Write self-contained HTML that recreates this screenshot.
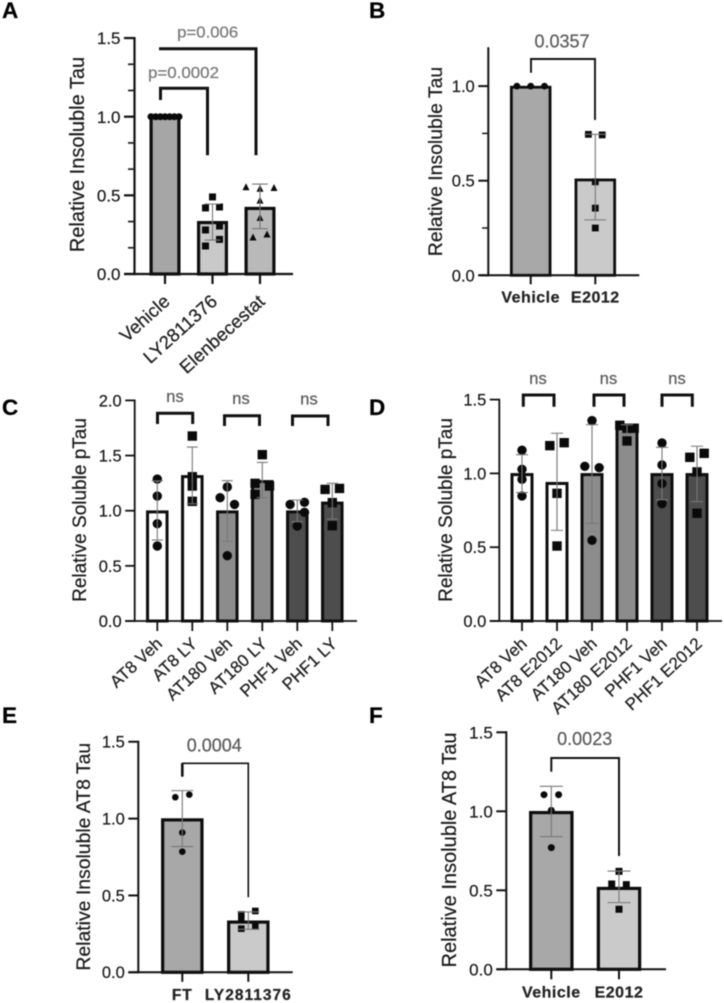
<!DOCTYPE html>
<html lang="en">
<head>
<meta charset="utf-8">
<title>Relative tau panels</title>
<style>
html,body{margin:0;padding:0;background:#fff;width:724px;height:1003px;overflow:hidden}
svg{display:block;filter:blur(0.4px)}
text{font-family:"Liberation Sans",sans-serif;stroke:#222;stroke-width:0.22px}
.letter{font-size:22.5px;font-weight:bold;fill:#000;stroke:#000}
.ytitle{fill:#1a1a1a;text-anchor:middle}
.pval{fill:#5a5a5a;stroke:#5a5a5a;text-anchor:middle}
.br{fill:none;stroke:#111;stroke-linejoin:miter}
</style>
</head>
<body>
<svg id="figure" width="724" height="1003" viewBox="0 0 724 1003" xmlns="http://www.w3.org/2000/svg">
  <rect width="724" height="1003" fill="#fff"/>

  <g id="panel-a">
    <text class="letter" x="2" y="18">A</text>
    <text class="ytitle" font-size="20" transform="translate(84,154.5) rotate(-90)">Relative Insoluble Tau</text>
  </g>
  <g id="panel-b">
    <text class="letter" x="369" y="18">B</text>
    <text class="ytitle" font-size="19.4" transform="translate(442,161.5) rotate(-90)">Relative Insoluble Tau</text>
  </g>
  <g id="panel-c">
    <text class="letter" x="2" y="415">C</text>
    <text class="ytitle" font-size="19" transform="translate(86,510) rotate(-90)">Relative Soluble pTau</text>
  </g>
  <g id="panel-d">
    <text class="letter" x="369" y="415">D</text>
    <text class="ytitle" font-size="19" transform="translate(452,510) rotate(-90)">Relative Soluble pTau</text>
  </g>
  <g id="panel-e">
    <text class="letter" x="2" y="723">E</text>
    <text class="ytitle" font-size="19.4" transform="translate(90,856.7) rotate(-90)">Relative Insoluble AT8 Tau</text>
  </g>
  <g id="panel-f">
    <text class="letter" x="369" y="723">F</text>
    <text class="ytitle" font-size="20" transform="translate(456,850) rotate(-90)">Relative Insoluble AT8 Tau</text>
  </g>

  <g id="annotations">
    <path class="br" stroke-width="3" d="M160.5 100V88.3H207.5V155.3"/>
    <path class="br" stroke-width="3" d="M159 48.7H256V155.3"/>
    <text class="pval" font-size="15.5" x="183.5" y="78" textLength="71" lengthAdjust="spacingAndGlyphs" style="fill:#777;stroke:#777">p=0.0002</text>
    <text class="pval" font-size="15.5" x="207.7" y="37.7" textLength="61" lengthAdjust="spacingAndGlyphs" style="fill:#777;stroke:#777">p=0.006</text>

    <path class="br" stroke-width="1.9" d="M531 72.7V59H595V120"/>
    <text class="pval" font-size="18" x="562" y="47.7">0.0357</text>

    <path class="br" stroke-width="3" d="M157.5 424V413.3H192.7V424"/>
    <path class="br" stroke-width="3" d="M224.5 426V415.7H259.5V426"/>
    <path class="br" stroke-width="3" d="M292.5 426V416H328V426"/>
    <text class="pval" font-size="16.5" x="175" y="402">ns</text>
    <text class="pval" font-size="16.5" x="241" y="404">ns</text>
    <text class="pval" font-size="16.5" x="309" y="404.7">ns</text>

    <path class="br" stroke-width="3" d="M523.3 406.7V395H554V406.7"/>
    <path class="br" stroke-width="3" d="M594 406.7V395H624V406.7"/>
    <path class="br" stroke-width="3" d="M662 406.7V395H692.3V406.7"/>
    <text class="pval" font-size="16.5" x="538" y="384">ns</text>
    <text class="pval" font-size="16.5" x="608.5" y="384">ns</text>
    <text class="pval" font-size="16.5" x="677" y="384">ns</text>

    <path class="br" stroke-width="1.6" d="M182.3 763.3H248.3V897.3"/>
    <path class="br" stroke-width="2.6" d="M182.3 776.7V763"/>
    <text class="pval" font-size="18" x="214.3" y="751.7">0.0004</text>

    <path class="br" stroke-width="2" d="M551.3 771.7V758H619V856"/>
    <text class="pval" font-size="18" x="584.7" y="745">0.0023</text>
  </g>
</svg>

<script>
// ---------- Panel A ----------
const panelACategories = ['Vehicle', 'LY2811376', 'Elenbecestat'];
const panelAMeans = [1.0, 0.335, 0.425];
const panelAErrHigh = [1.0, 0.445, 0.572];
const panelAErrLow = [1.0, 0.216, 0.288];
const panelAPoints = [
  [1, 1, 1, 1, 1, 1, 1],
  [0.49, 0.42, 0.426, 0.28, 0.305, 0.22, 0.178],
  [0.555, 0.545, 0.55, 0.47, 0.36, 0.235, 0.254]
];
const panelASlots = [
  [-2, -1.33, -0.67, 0, 0.67, 1.33, 2],
  [0, -1, 1, -1, 1, 1, -1],
  [-2, 0, 2, 0, 0, -1, 1]
];
const panelAMarkers = ['circle', 'square', 'triangle'];
const panelAFills = ['#a6a6a6', '#c9c9c9', '#b9b9b9'];
const panelATicks = [0, 0.5, 1, 1.5];
const panelATickLabels = ['0.0', '0.5', '1.0', '1.5'];
const panelAMinorTicks = [0.1667, 0.3333, 0.6667, 0.8333, 1.1667, 1.3333];

// ---------- Panel B ----------
const panelBCategories = ['Vehicle', 'E2012'];
const panelBMeans = [1.0, 0.51];
const panelBErrHigh = [1.0, 0.745];
const panelBErrLow = [1.0, 0.293];
const panelBPoints = [
  [1, 1, 1],
  [0.745, 0.742, 0.494, 0.355, 0.25]
];
const panelBSlots = [
  [-2, 0, 2],
  [-1, 1, 0, 0, 0]
];
const panelBMarkers = ['circle', 'square'];
const panelBFills = ['#a8a8a8', '#cacaca'];
const panelBTicks = [0, 0.5, 1];
const panelBTickLabels = ['0.0', '0.5', '1.0'];
const panelBMinorTicks = [0.25, 0.75];

// ---------- Panel C ----------
const panelCCategories = ['AT8 Veh', 'AT8 LY', 'AT180 Veh', 'AT180 LY', 'PHF1 Veh', 'PHF1 LY'];
const panelCMeans = [1.0, 1.32, 1.0, 1.275, 1.0, 1.08];
const panelCErrHigh = [1.27, 1.577, 1.272, 1.438, 1.097, 1.248];
const panelCErrLow = [0.734, 1.063, 0.722, 1.118, 0.9, 0.924];
const panelCPoints = [
  [1.287, 1.133, 0.882, 0.68],
  [1.677, 1.308, 1.224, 1.085],
  [1.215, 1.118, 1.057, 0.592],
  [1.508, 1.248, 1.224, 1.148],
  [1.057, 1.076, 0.985, 0.861],
  [1.193, 1.202, 1.073, 0.864]
];
const panelCSlots = [
  [0, 0, 0, 0],
  [0, 0, 0, 0],
  [0, -1, 1, 0],
  [0, -1, 1, -1],
  [-1, 1, 1, 0],
  [-1, 1, 0, 0]
];
const panelCMarkers = ['circle', 'square', 'circle', 'square', 'circle', 'square'];
const panelCFills = ['#ffffff', '#ffffff', '#8c8c8c', '#8c8c8c', '#4d4d4d', '#4d4d4d'];
const panelCTicks = [0, 0.5, 1, 1.5, 2];
const panelCTickLabels = ['0.0', '0.5', '1.0', '1.5', '2.0'];

// ---------- Panel D ----------
const panelDCategories = ['AT8 Veh', 'AT8 E2012', 'AT180 Veh', 'AT180 E2012', 'PHF1 Veh', 'PHF1 E2012'];
const panelDMeans = [1.0, 0.94, 1.0, 1.31, 1.0, 1.0];
const panelDErrHigh = [1.127, 1.272, 1.33, 1.33, 1.177, 1.184];
const panelDErrLow = [0.87, 0.614, 0.662, 1.27, 0.822, 0.809];
const panelDPoints = [
  [1.157, 1.028, 0.96, 0.847],
  [1.188, 1.208, 0.865, 0.508],
  [1.358, 1.048, 1.039, 0.547],
  [1.326, 1.306, 1.306, 1.22],
  [1.206, 1.057, 0.931, 0.795],
  [1.109, 1.136, 1.01, 0.73]
];
const panelDSlots = [
  [0, 0, 0, 0],
  [-1, 1, 0, 0],
  [0, -1, 1, 0],
  [-1, 0, 1, 0],
  [0, 0, 0, 0],
  [-1, 1, 0, 0]
];
const panelDMarkers = ['circle', 'square', 'circle', 'square', 'circle', 'square'];
const panelDFills = ['#ffffff', '#ffffff', '#8c8c8c', '#8c8c8c', '#4d4d4d', '#4d4d4d'];
const panelDTicks = [0, 0.5, 1, 1.5];
const panelDTickLabels = ['0.0', '0.5', '1.0', '1.5'];

// ---------- Panel E ----------
const panelECategories = ['FT', 'LY2811376'];
const panelEMeans = [1.0, 0.335];
const panelEErrHigh = [1.182, 0.393];
const panelEErrLow = [0.818, 0.28];
const panelEPoints = [
  [1.139, 1.156, 0.909, 0.785],
  [0.399, 0.377, 0.35, 0.284, 0.299]
];
const panelESlots = [
  [-1, 1, 0, 0],
  [1, -1, -1, -1, 1]
];
const panelEMarkers = ['circle', 'square'];
const panelEFills = ['#a8a8a8', '#cacaca'];
const panelETicks = [0, 0.5, 1, 1.5];
const panelETickLabels = ['0.0', '0.5', '1.0', '1.5'];

// ---------- Panel F ----------
const panelFCategories = ['Vehicle', 'E2012'];
const panelFMeans = [1.0, 0.52];
const panelFErrHigh = [1.158, 0.622];
const panelFErrLow = [0.84, 0.422];
const panelFPoints = [
  [1.105, 1.105, 1.006, 0.77],
  [0.62, 0.54, 0.536, 0.38]
];
const panelFSlots = [
  [-1, 1, 0, 0],
  [0, -1, 1, 0]
];
const panelFMarkers = ['circle', 'square'];
const panelFFills = ['#a8a8a8', '#cacaca'];
const panelFTicks = [0, 0.5, 1, 1.5];
const panelFTickLabels = ['0.0', '0.5', '1.0', '1.5'];

const SVG_NS = 'http://www.w3.org/2000/svg';

function make(tag, attrs, parent) {
  const node = document.createElementNS(SVG_NS, tag);
  Object.keys(attrs).forEach(function (k) { node.setAttribute(k, attrs[k]); });
  parent.appendChild(node);
  return node;
}

function drawMarker(group, kind, cx, cy, size) {
  const h = size / 2;
  let node;
  if (kind === 'circle') {
    node = make('circle', { cx: cx, cy: cy, r: h, fill: '#0a0a0a' }, group);
  } else if (kind === 'square') {
    node = make('rect', { x: cx - h, y: cy - h, width: size, height: size, fill: '#0a0a0a' }, group);
  } else {
    node = make('polygon', { points: (cx - h) + ',' + (cy + h) + ' ' + (cx + h) + ',' + (cy + h) + ' ' + cx + ',' + (cy - h), fill: '#0a0a0a' }, group);
  }
  
  
}

function drawPanel(id, d, g) {
  const root = document.getElementById(id);
  const yScale = function (v) { return g.y0 - v * g.unit; };
  const xScale = function (i) { return g.x0 + i * g.step; };
  const axisStroke = g.axisStroke;
  const tickLen = g.tickLen;

  // bars (outline sits just inside the value, as in the reference)
  d.means.forEach(function (m, i) {
    const inset = g.barStroke / 2;
    const barTop = yScale(m) + inset * 0.8;
    const bar = make('rect', {
      x: xScale(i) - g.barWidth / 2 + inset,
      y: barTop,
      width: g.barWidth - g.barStroke,
      height: Math.max(0, g.y0 - barTop),
      fill: d.fills[i],
      stroke: '#0d0d0d',
      'stroke-width': g.barStroke
    }, root);
    
    
  });

  // points
  d.points.forEach(function (series, i) {
    series.forEach(function (v, j) {
      drawMarker(root, d.markers[i], xScale(i) + d.slots[i][j] * g.slotWidth, yScale(v), g.markerSize);
    });
  });

  // error bars
  d.means.forEach(function (m, i) {
    const hi = d.errHigh[i];
    const lo = d.errLow[i];
    if (hi === lo) { return; }
    const path = 'M' + xScale(i) + ' ' + yScale(hi) + 'V' + yScale(lo) +
      'M' + (xScale(i) - g.capHalf) + ' ' + yScale(hi) + 'h' + (2 * g.capHalf) +
      'M' + (xScale(i) - g.capHalf) + ' ' + yScale(lo) + 'h' + (2 * g.capHalf);
    const err = make('path', { d: path, fill: 'none', stroke: '#777', 'stroke-width': 1.1 }, root);
    
    
  });

  // axes
  const topVal = g.axisTop !== undefined ? g.axisTop : d.ticks[d.ticks.length - 1];
  const yAxis = make('line', { x1: g.axisX, x2: g.axisX, y1: yScale(topVal) - axisStroke / 2, y2: g.y0 + axisStroke / 2, stroke: '#111', 'stroke-width': axisStroke }, root);
  
  
  const xAxis = make('line', { x1: g.axisX - tickLen, x2: g.xEnd, y1: g.y0, y2: g.y0, stroke: '#111', 'stroke-width': axisStroke }, root);
  
  

  d.ticks.forEach(function (t, i) {
    const tick = make('line', { x1: g.axisX - tickLen, x2: g.axisX, y1: yScale(t), y2: yScale(t), stroke: '#111', 'stroke-width': axisStroke }, root);
    
    
    const label = make('text', { x: g.axisX - tickLen - 3.5, y: yScale(t) + g.tickFont * 0.36, 'font-size': g.tickFont, 'text-anchor': 'end', fill: '#1a1a1a' }, root);
    label.textContent = d.tickLabels[i];
    
    
  });

  (d.minorTicks || []).forEach(function (t) {
    const minor = make('line', { x1: g.axisX - tickLen * 0.62, x2: g.axisX, y1: yScale(t), y2: yScale(t), stroke: '#222', 'stroke-width': axisStroke * 0.8 }, root);
    
    
  });

  d.categories.forEach(function (c, i) {
    const tick = make('line', { x1: xScale(i), x2: xScale(i), y1: g.y0, y2: g.y0 + g.xTickLen, stroke: '#111', 'stroke-width': axisStroke }, root);
    
    
    let label;
    if (g.rotate) {
      const lx = xScale(i) + g.labelDx;
      label = make('text', { x: lx, y: g.labelY, 'font-size': g.labelFont, 'text-anchor': 'end', fill: '#1a1a1a', transform: 'rotate(' + g.rotate + ' ' + lx + ' ' + g.labelY + ')' }, root);
    } else {
      label = make('text', { x: xScale(i), y: g.labelY, 'font-size': g.labelFont, 'font-weight': 'bold', 'letter-spacing': g.labelSpacing, 'text-anchor': 'middle', fill: '#222', 'stroke-width': 0 }, root);
    }
    label.textContent = c;
    
    
  });
}

drawPanel('panel-a',
  { categories: panelACategories, means: panelAMeans, errHigh: panelAErrHigh, errLow: panelAErrLow, points: panelAPoints, slots: panelASlots, markers: panelAMarkers, fills: panelAFills, ticks: panelATicks, tickLabels: panelATickLabels, minorTicks: panelAMinorTicks },
  { x0: 165, step: 47.5, y0: 274, unit: 157.3, axisX: 134.5, xEnd: 293, barWidth: 31, barStroke: 3.2, slotWidth: 7, markerSize: 7, capHalf: 8, axisStroke: 2.2, tickLen: 10.5, xTickLen: 10, tickFont: 17, rotate: -42, labelDx: 6, labelY: 303, labelFont: 18.5 });

drawPanel('panel-b',
  { categories: panelBCategories, means: panelBMeans, errHigh: panelBErrHigh, errLow: panelBErrLow, points: panelBPoints, slots: panelBSlots, markers: panelBMarkers, fills: panelBFills, ticks: panelBTicks, tickLabels: panelBTickLabels, minorTicks: panelBMinorTicks },
  { x0: 530.7, step: 64.6, y0: 275.3, unit: 189.2, axisX: 488.3, xEnd: 639.3, barWidth: 41.5, barStroke: 2.8, slotWidth: 6.9, markerSize: 6.8, capHalf: 11, axisStroke: 2, tickLen: 10, xTickLen: 9, tickFont: 16.6, axisTop: 1.2, labelY: 302.7, labelFont: 16, labelSpacing: 0.5 });

drawPanel('panel-c',
  { categories: panelCCategories, means: panelCMeans, errHigh: panelCErrHigh, errLow: panelCErrLow, points: panelCPoints, slots: panelCSlots, markers: panelCMarkers, fills: panelCFills, ticks: panelCTicks, tickLabels: panelCTickLabels },
  { x0: 157.3, step: 35, y0: 621, unit: 110.3, axisX: 134.7, xEnd: 357, barWidth: 22.5, barStroke: 3, slotWidth: 7.2, markerSize: 9.4, capHalf: 5.5, axisStroke: 1.8, tickLen: 9.5, xTickLen: 10, tickFont: 16.5, rotate: -43, labelDx: 6, labelY: 645, labelFont: 17 });

drawPanel('panel-d',
  { categories: panelDCategories, means: panelDMeans, errHigh: panelDErrHigh, errLow: panelDErrLow, points: panelDPoints, slots: panelDSlots, markers: panelDMarkers, fills: panelDFills, ticks: panelDTicks, tickLabels: panelDTickLabels },
  { x0: 522, step: 35, y0: 621, unit: 147.6, axisX: 499.3, xEnd: 722, barWidth: 23, barStroke: 3, slotWidth: 7.2, markerSize: 9.4, capHalf: 6, axisStroke: 1.8, tickLen: 9.5, xTickLen: 10, tickFont: 16.5, rotate: -43, labelDx: 6, labelY: 645, labelFont: 17 });

drawPanel('panel-e',
  { categories: panelECategories, means: panelEMeans, errHigh: panelEErrHigh, errLow: panelEErrLow, points: panelEPoints, slots: panelESlots, markers: panelEMarkers, fills: panelEFills, ticks: panelETicks, tickLabels: panelETickLabels },
  { x0: 182.3, step: 66, y0: 972.3, unit: 153.7, axisX: 138.3, xEnd: 292.7, barWidth: 42.5, barStroke: 3.2, slotWidth: 7, markerSize: 6.6, capHalf: 11, axisStroke: 2, tickLen: 10, xTickLen: 9.5, tickFont: 16.5, labelY: 1000, labelFont: 15.5, labelSpacing: 1 });

drawPanel('panel-f',
  { categories: panelFCategories, means: panelFMeans, errHigh: panelFErrHigh, errLow: panelFErrLow, points: panelFPoints, slots: panelFSlots, markers: panelFMarkers, fills: panelFFills, ticks: panelFTicks, tickLabels: panelFTickLabels },
  { x0: 551.3, step: 67.7, y0: 969.3, unit: 158, axisX: 506.3, xEnd: 666, barWidth: 44.5, barStroke: 3.2, slotWidth: 7.3, markerSize: 7, capHalf: 11.5, axisStroke: 2, tickLen: 10, xTickLen: 10, tickFont: 17, labelY: 997.7, labelFont: 16, labelSpacing: 0.5 });

// keep significance annotations above the plotted marks
document.getElementById('figure').appendChild(document.getElementById('annotations'));
</script>
</body>
</html>
